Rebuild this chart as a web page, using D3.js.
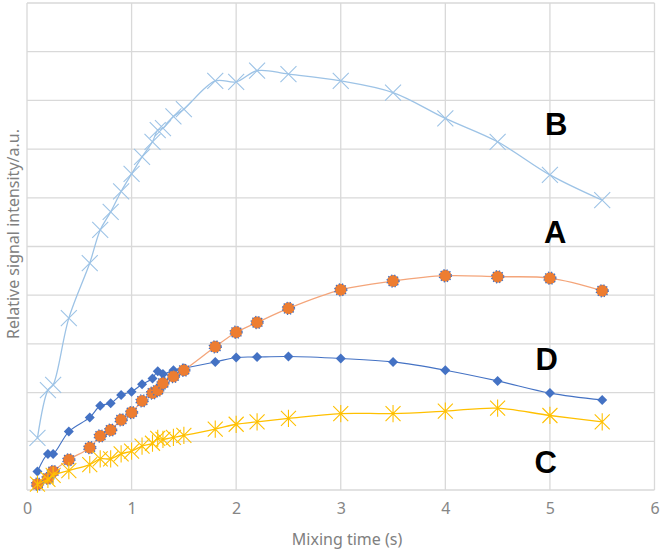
<!DOCTYPE html>
<html><head><meta charset="utf-8">
<script src="https://cdn.jsdelivr.net/npm/d3@7"></script>
<style>body{margin:0;background:#fff}</style>
</head><body>
<svg id="c" width="661" height="550"></svg>
<script>
const times = [0.1,0.2,0.25,0.4,0.6,0.7,0.8,0.9,1.0,1.1,1.2,1.25,1.3,1.4,1.5,1.8,2.0,2.2,2.5,3,3.5,4,4.5,5,5.5];
const seriesB = [1.07,2.05,2.16,3.53,4.66,5.34,5.71,6.13,6.49,6.84,7.15,7.39,7.43,7.67,7.82,8.40,8.38,8.61,8.54,8.40,8.16,7.63,7.15,6.47,5.95];
const seriesD = [0.38,0.74,0.74,1.20,1.49,1.73,1.78,1.95,2.02,2.17,2.29,2.44,2.38,2.46,2.50,2.63,2.72,2.73,2.74,2.70,2.63,2.46,2.24,1.99,1.85];
const seriesA = [0.12,0.24,0.38,0.62,0.87,1.11,1.23,1.44,1.59,1.83,1.99,2.05,2.19,2.33,2.46,2.94,3.24,3.44,3.73,4.11,4.29,4.40,4.38,4.35,4.09];
const seriesC = [0.12,0.22,0.30,0.40,0.52,0.64,0.64,0.74,0.80,0.90,0.96,1.06,1.04,1.08,1.12,1.25,1.35,1.40,1.47,1.57,1.57,1.62,1.68,1.53,1.40];
const xTicks = [0,1,2,3,4,5,6];
const yGrid = [0,1,2,3,4,5,6,7,8,9,10];
const labels = [
  {text:"B", x:5.06, y:7.52},
  {text:"A", x:5.05, y:5.3},
  {text:"D", x:4.97, y:2.7},
  {text:"C", x:4.96, y:0.57}
];

const svg = d3.select("#c");
const x = d3.scaleLinear().domain([0,6]).range([27,654.5]);
const y = d3.scaleLinear().domain([0,10]).range([490,3]);

const grid = svg.append("g");
grid.selectAll("line.h").data(yGrid).join("line")
  .attr("x1",x(0)).attr("x2",x(6)).attr("y1",d=>y(d)).attr("y2",d=>y(d))
  .attr("stroke","#d9d9d9").attr("stroke-width",1.3);
grid.selectAll("line.v").data(xTicks).join("line")
  .attr("y1",y(0)).attr("y2",y(10)).attr("x1",d=>x(d)).attr("x2",d=>x(d))
  .attr("stroke","#d9d9d9").attr("stroke-width",1.3);

const font = "'Noto Sans','Noto Sans CJK JP',sans-serif";
const xAxis = d3.axisBottom(x).tickValues(xTicks).tickSize(0).tickPadding(13).tickFormat(d3.format("d"));
const gx = svg.append("g").attr("transform",`translate(0,${y(0)})`).call(xAxis);
gx.select(".domain").remove();
gx.selectAll("text").attr("fill","#868686").style("font-family",font).style("font-size","16px");

svg.append("text").attr("x",347).attr("y",545).attr("text-anchor","middle")
  .attr("fill","#808080").style("font-family",font).style("font-size","16px")
  .text("Mixing time (s)");
svg.append("text").attr("transform","translate(19,234) rotate(-90)").attr("text-anchor","middle")
  .attr("fill","#808080").style("font-family",font).style("font-size","16px")
  .text("Relative signal intensity/a.u.");

const curve = d3.curveCatmullRom.alpha(0.5);
function lineFor(vals){
  return d3.line().x((d,i)=>x(times[i])).y(d=>y(d)).curve(curve)(vals);
}
const xPath = s=>`M${-s},${-s}L${s},${s}M${-s},${s}L${s},${-s}`;
const starPath = s=>`M${-s},${-s}L${s},${s}M${-s},${s}L${s},${-s}M0,${-s*1.15}L0,${s*1.15}`;
const diamondPath = s=>`M0,${-s}L${s},0L0,${s}L${-s},0Z`;

// B
svg.append("path").attr("d",lineFor(seriesB)).attr("fill","none").attr("stroke","#9dc3e6").attr("stroke-width",1.3);
svg.append("g").selectAll("path").data(seriesB).join("path")
  .attr("transform",(d,i)=>`translate(${x(times[i])},${y(d)})`)
  .attr("d",xPath(8)).attr("fill","none").attr("stroke","#9dc3e6").attr("stroke-width",1.1);

// D
svg.append("path").attr("d",lineFor(seriesD)).attr("fill","none").attr("stroke","#4472c4").attr("stroke-width",1.1);
svg.append("g").selectAll("path").data(seriesD).join("path")
  .attr("transform",(d,i)=>`translate(${x(times[i])},${y(d)})`)
  .attr("d",diamondPath(5)).attr("fill","#4472c4");

// A
svg.append("path").attr("d",lineFor(seriesA)).attr("fill","none").attr("stroke","#f4a57a").attr("stroke-width",1.3);
svg.append("g").selectAll("circle").data(seriesA).join("circle")
  .attr("cx",(d,i)=>x(times[i])).attr("cy",d=>y(d)).attr("r",6)
  .attr("fill","#ed7d31").attr("stroke","#4472c4").attr("stroke-width",1.4).attr("stroke-dasharray","1.2,2");

// C
svg.append("path").attr("d",lineFor(seriesC)).attr("fill","none").attr("stroke","#ffc000").attr("stroke-width",1.3);
svg.append("g").selectAll("path").data(seriesC).join("path")
  .attr("transform",(d,i)=>`translate(${x(times[i])},${y(d)})`)
  .attr("d",starPath(7.5)).attr("fill","none").attr("stroke","#ffc000").attr("stroke-width",1.1);

svg.append("g").selectAll("text").data(labels).join("text")
  .attr("x",d=>x(d.x)).attr("y",d=>y(d.y)).attr("text-anchor","middle").attr("dy","0.36em")
  .attr("fill","#000").style("font-family","'Liberation Sans',Arial,sans-serif").style("font-weight","bold").style("font-size","31px")
  .text(d=>d.text);
</script>
</body></html>
